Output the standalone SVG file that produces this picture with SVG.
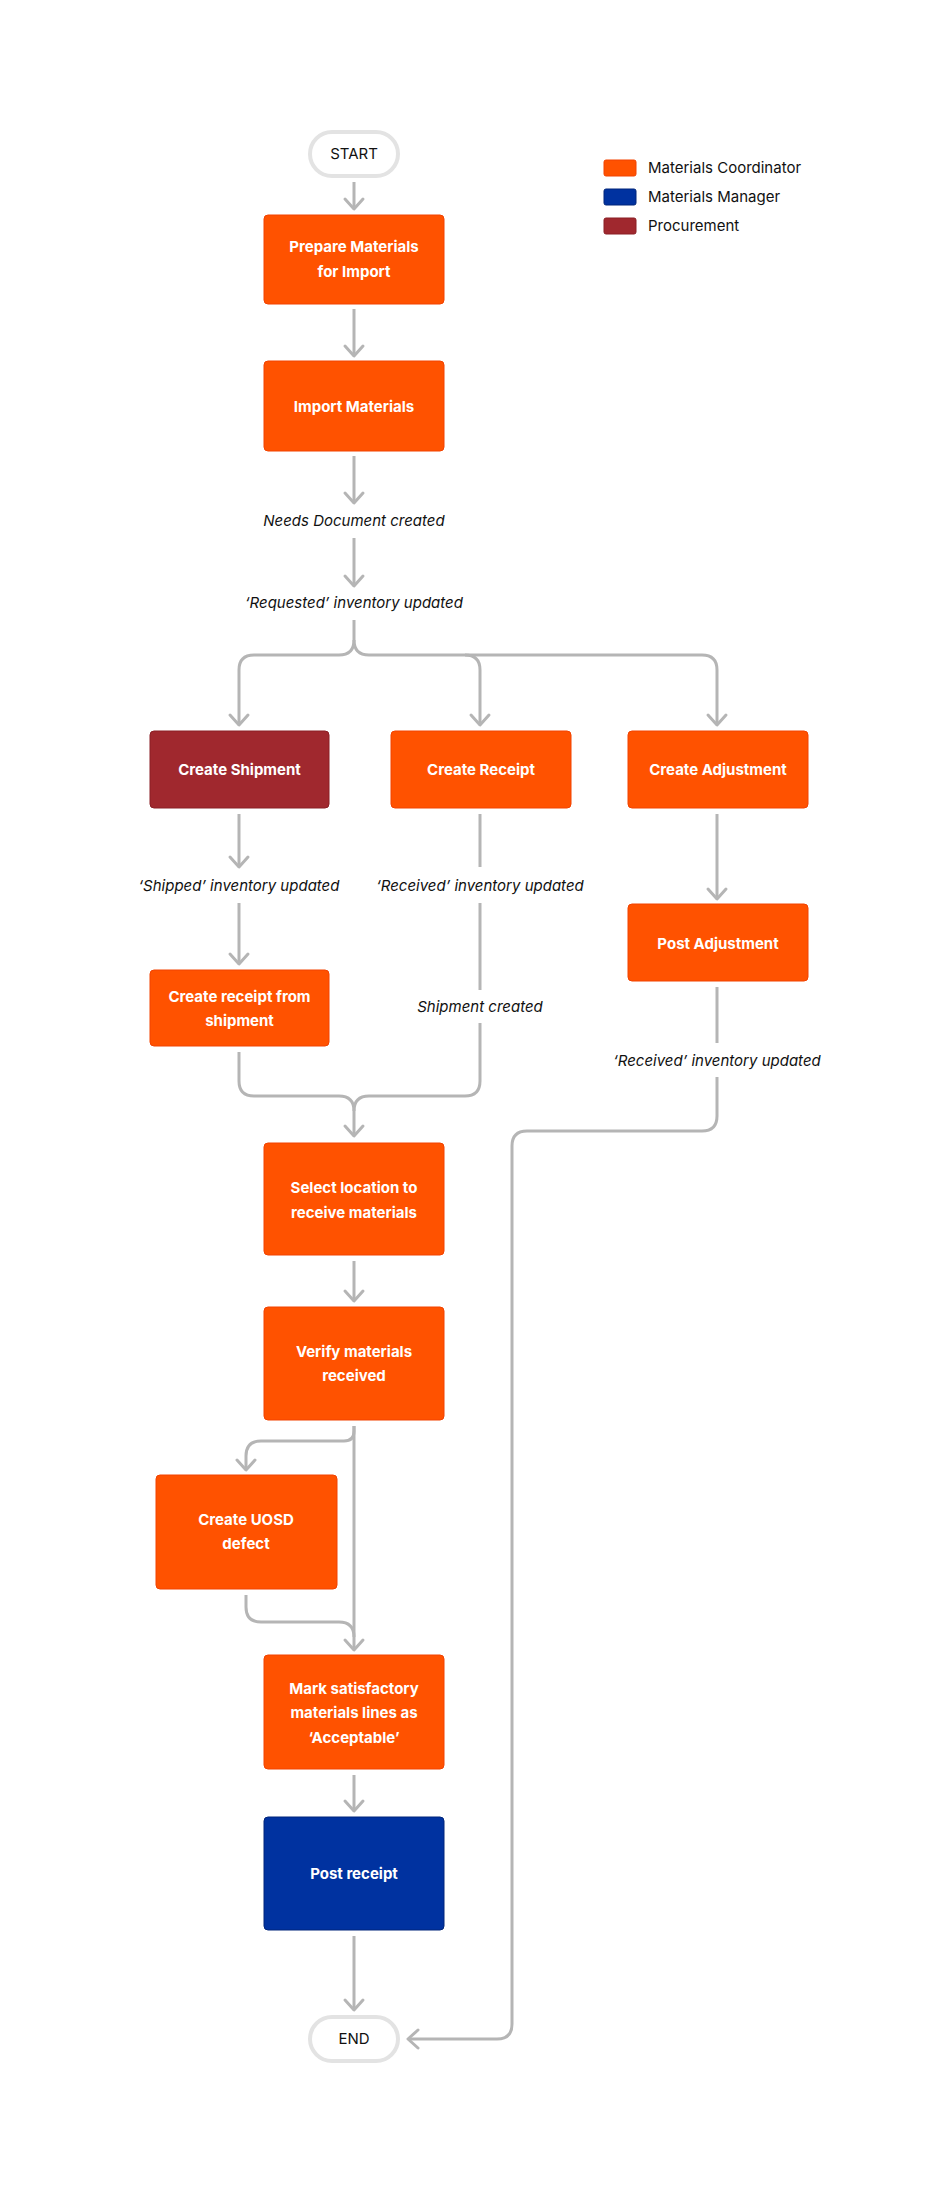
<svg xmlns="http://www.w3.org/2000/svg" width="950" height="2194" viewBox="0 0 950 2194">
<style>
text{font-family:Inter,"Liberation Sans",sans-serif}
.n{font-size:15px;font-weight:700;fill:#fff;text-anchor:middle}
.l{font-size:15px;font-style:italic;fill:#111;text-anchor:middle}
.lg{font-size:15px;fill:#111}
.t{font-size:15px;fill:#111;text-anchor:middle}
.o{fill:#FF5200;stroke:#F24200;stroke-width:1}
.r{fill:#A0282E;stroke:#8A1E24;stroke-width:1}
.b{fill:#0032A0;stroke:#00257A;stroke-width:1}
.pill{fill:#fff;stroke:#e3e3e3;stroke-width:4}
.c{fill:none;stroke:#b5b5b5;stroke-width:3}
</style>
<defs>
<marker id="a" viewBox="0 0 12 20" refX="11" refY="10" markerWidth="12" markerHeight="20" markerUnits="userSpaceOnUse" orient="auto" overflow="visible">
<path d="M1,1 L11,10 L1,19" fill="none" stroke="#b5b5b5" stroke-width="3" stroke-linecap="round" stroke-linejoin="round"/>
</marker>
</defs>
<g id="legend">
<rect x="604" y="160" width="32" height="16" rx="2" class="o"/><text x="648" y="173" class="lg">Materials Coordinator</text>
<rect x="604" y="189" width="32" height="16" rx="2" class="b"/><text x="648" y="202" class="lg">Materials Manager</text>
<rect x="604" y="218" width="32" height="16" rx="2" class="r"/><text x="648" y="231" class="lg">Procurement</text>
</g>
<g id="connectors">
<path class="c" d="M354,182 V209" marker-end="url(#a)"/>
<path class="c" d="M354,309 V356" marker-end="url(#a)"/>
<path class="c" d="M354,456 V503" marker-end="url(#a)"/>
<path class="c" d="M354,538 V586" marker-end="url(#a)"/>
<path class="c" d="M354,620 V640 Q354,655 339,655 H254 Q239,655 239,670 V725" marker-end="url(#a)"/>
<path class="c" d="M354,640 Q354,655 369,655 H465 Q480,655 480,670 V725" marker-end="url(#a)"/>
<path class="c" d="M465,655 H702 Q717,655 717,670 V725" marker-end="url(#a)"/>
<path class="c" d="M239,814 V867" marker-end="url(#a)"/>
<path class="c" d="M239,903 V964" marker-end="url(#a)"/>
<path class="c" d="M480,814 V867"/>
<path class="c" d="M480,903 V990"/>
<path class="c" d="M717,814 V899" marker-end="url(#a)"/>
<path class="c" d="M239,1052 V1081 Q239,1096 254,1096 H339 Q354,1096 354,1111 V1136" marker-end="url(#a)"/>
<path class="c" d="M480,1023 V1081 Q480,1096 465,1096 H369 Q354,1096 354,1111"/>
<path class="c" d="M717,987 V1043"/>
<path class="c" d="M717,1077 V1116 Q717,1131 702,1131 H527 Q512,1131 512,1146 V2024 Q512,2039 497,2039 H408" marker-end="url(#a)"/>
<path class="c" d="M354,1261 V1301" marker-end="url(#a)"/>
<path class="c" d="M354,1426 V1650" marker-end="url(#a)"/>
<path class="c" d="M354,1426 V1431 Q354,1441 344,1441 H261 Q246,1441 246,1456 V1470" marker-end="url(#a)"/>
<path class="c" d="M246,1595 V1607 Q246,1622 261,1622 H339 Q354,1622 354,1637"/>
<path class="c" d="M354,1775 V1811" marker-end="url(#a)"/>
<path class="c" d="M354,1936 V2010" marker-end="url(#a)"/>
</g>
<g id="labels">
<text x="354" y="526" class="l">Needs Document created</text>
<text x="354" y="608" class="l">‘Requested’ inventory updated</text>
<text x="239" y="891" class="l">‘Shipped’ inventory updated</text>
<text x="480" y="891" class="l">‘Received’ inventory updated</text>
<text x="480" y="1012" class="l">Shipment created</text>
<text x="717" y="1066" class="l">‘Received’ inventory updated</text>
</g>
<g id="start"><rect x="310" y="132" width="88" height="44" rx="22" class="pill"/><text x="354" y="159" class="t">START</text></g>
<g id="prepare"><rect x="264" y="215" width="180" height="89" rx="4" class="o"/><text x="354" y="252" class="n">Prepare Materials</text><text x="354" y="277" class="n">for Import</text></g>
<g id="import"><rect x="264" y="361" width="180" height="90" rx="4" class="o"/><text x="354" y="412" class="n">Import Materials</text></g>
<g id="shipment"><rect x="150" y="731" width="179" height="77" rx="4" class="r"/><text x="239.5" y="775" class="n">Create Shipment</text></g>
<g id="receipt"><rect x="391" y="731" width="180" height="77" rx="4" class="o"/><text x="481" y="775" class="n">Create Receipt</text></g>
<g id="adjustment"><rect x="628" y="731" width="180" height="77" rx="4" class="o"/><text x="718" y="775" class="n">Create Adjustment</text></g>
<g id="receiptFromShipment"><rect x="150" y="970" width="179" height="76" rx="4" class="o"/><text x="239.5" y="1002" class="n">Create receipt from</text><text x="239.5" y="1026" class="n">shipment</text></g>
<g id="postAdjustment"><rect x="628" y="904" width="180" height="77" rx="4" class="o"/><text x="718" y="949" class="n">Post Adjustment</text></g>
<g id="selectLocation"><rect x="264" y="1143" width="180" height="112" rx="4" class="o"/><text x="354" y="1193" class="n">Select location to</text><text x="354" y="1218" class="n">receive materials</text></g>
<g id="verify"><rect x="264" y="1307" width="180" height="113" rx="4" class="o"/><text x="354" y="1357" class="n">Verify materials</text><text x="354" y="1381" class="n">received</text></g>
<g id="uosd"><rect x="156" y="1475" width="181" height="114" rx="4" class="o"/><text x="246" y="1525" class="n">Create UOSD</text><text x="246" y="1549" class="n">defect</text></g>
<g id="mark"><rect x="264" y="1655" width="180" height="114" rx="4" class="o"/><text x="354" y="1694" class="n">Mark satisfactory</text><text x="354" y="1718" class="n">materials lines as</text><text x="354" y="1743" class="n">‘Acceptable’</text></g>
<g id="postReceipt"><rect x="264" y="1817" width="180" height="113" rx="4" class="b"/><text x="354" y="1879" class="n">Post receipt</text></g>
<g id="end"><rect x="310" y="2017" width="88" height="44" rx="22" class="pill"/><text x="354" y="2044" class="t">END</text></g>
</svg>
